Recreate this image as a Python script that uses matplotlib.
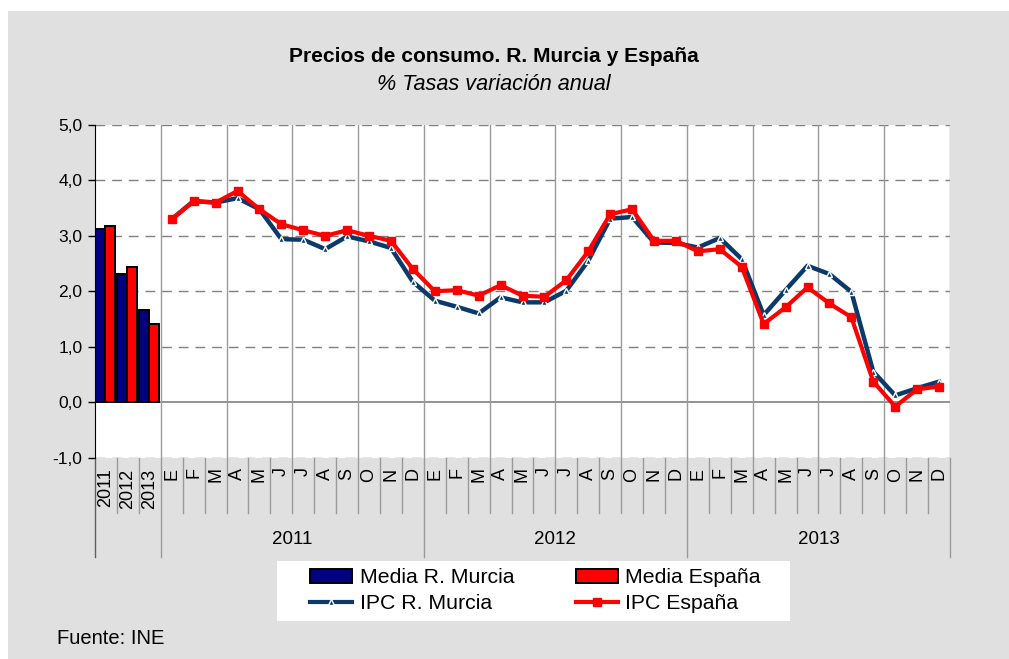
import matplotlib.pyplot as plt
from matplotlib.lines import Line2D
from matplotlib.patches import Patch, Rectangle
from matplotlib.transforms import blended_transform_factory

plt.rcParams['font.family'] = ['Liberation Sans', 'DejaVu Sans']

# Datos
anios = ['2011', '2012', '2013']
media_murcia = [3.12, 2.32, 1.67]
media_espana = [3.18, 2.44, 1.41]

meses = ['E', 'F', 'M', 'A', 'M', 'J', 'J', 'A', 'S', 'O', 'N', 'D'] * 3

ipc_murcia = [3.30, 3.63, 3.60, 3.68, 3.48, 2.94, 2.93, 2.76, 2.99, 2.90, 2.78, 2.17,
              1.83, 1.72, 1.60, 1.89, 1.80, 1.80, 2.01, 2.55, 3.31, 3.34, 2.88, 2.87,
              2.79, 2.96, 2.58, 1.57, 2.02, 2.46, 2.31, 1.99, 0.55, 0.12, 0.25, 0.37]
ipc_espana = [3.30, 3.62, 3.60, 3.81, 3.48, 3.21, 3.10, 3.00, 3.10, 3.00, 2.91, 2.40,
              2.00, 2.02, 1.92, 2.11, 1.92, 1.90, 2.20, 2.72, 3.39, 3.48, 2.91, 2.91,
              2.72, 2.76, 2.44, 1.41, 1.71, 2.07, 1.78, 1.53, 0.37, -0.08, 0.23, 0.28]

y_ticks = [-1, 0, 1, 2, 3, 4, 5]

AZUL_BAR = '#000080'
AZUL_LIN = '#0b3a6a'
ROJO = '#ff0000'
GRIS_FONDO = '#e0e0e0'
GRIS_LINEA = '#9a9a9a'

W, H = 1009, 659
fig = plt.figure(figsize=(W / 100, H / 100), dpi=100)
fig.patch.set_facecolor('white')
fig.add_artist(Rectangle((8 / W, 0), 1 - 8 / W, 1 - 11 / H, transform=fig.transFigure,
                         facecolor=GRIS_FONDO, edgecolor='none', zorder=-10))

ax_top, ax_bot = 125, 457.5
ax = fig.add_axes([95 / W, 1 - ax_bot / H, (950 - 95) / W, (ax_bot - ax_top) / H])
ax.set_facecolor('white')
n_bar = len(anios)
n_cat = n_bar + len(meses)
ax.set_xlim(0, n_cat)
ax.set_ylim(-1, 5)

# rejilla
for v in y_ticks:
    if v == 0:
        ax.axhline(v, color='#808080', lw=1.2, zorder=1)
    else:
        ax.axhline(v, color='#808080', lw=1, ls=(0, (7, 5)), zorder=1)
for xv in range(n_bar, n_cat + 1, 3):
    ax.axvline(xv, color=GRIS_LINEA, lw=1, zorder=1)

# barras de medias
bw = 0.46
xb = [i + 0.45 for i in range(n_bar)]
ax.bar([x - bw / 2 for x in xb], media_murcia, width=bw, color=AZUL_BAR,
       edgecolor='black', lw=1.4, zorder=3)
ax.bar([x + bw / 2 for x in xb], media_espana, width=bw, color=ROJO,
       edgecolor='black', lw=1.4, zorder=3)

# lineas mensuales
xm = [n_bar + i + 0.5 for i in range(len(meses))]
ax.plot(xm, ipc_murcia, color=AZUL_LIN, lw=3.2, marker='^', ms=4.5,
        mfc=AZUL_LIN, mec='white', mew=1, zorder=4)
ax.plot(xm, ipc_espana, color=ROJO, lw=3, marker='s', ms=5.5,
        mfc=ROJO, mec=ROJO, zorder=5)

# eje y
ax.set_yticks(y_ticks)
ax.set_yticklabels([f'{v:.1f}'.replace('.', ',') for v in y_ticks], fontsize=12.5)
ax.tick_params(axis='y', direction='out', length=5, width=1, color='black', pad=4)
ax.tick_params(axis='x', length=0, labelbottom=False)
for s in ['top', 'right', 'bottom']:
    ax.spines[s].set_visible(False)
ax.spines['left'].set_color('black')
ax.spines['left'].set_zorder(6)

# etiquetas de categorias bajo el eje
tr = blended_transform_factory(ax.transData, ax.transAxes)
hpx = ax_bot - ax_top
for i in range(n_cat + 1):
    largo = 557 - ax_bot if i in (0, 3, 15, 27, 39) else 513 - ax_bot
    ax.plot([i, i], [0, -largo / hpx], transform=tr, clip_on=False,
            color=GRIS_LINEA if i else '#606060', lw=1)
for i, a in enumerate(anios):
    ax.text(i + 0.5, -11 / hpx, a, rotation=90, ha='center', va='top',
            transform=tr, fontsize=13)
for i, m in enumerate(meses):
    ax.text(n_bar + i + 0.5, -10 / hpx, m, rotation=90, ha='center', va='top',
            transform=tr, fontsize=13)
for k, a in enumerate(anios):
    ax.text(n_bar + 12 * k + 6, -(540 - ax_bot) / hpx, a, ha='center', va='center',
            transform=tr, fontsize=13.5)

# titulos
fig.text(494 / W, 1 - 57 / H, 'Precios de consumo. R. Murcia y España',
         ha='center', va='center', fontsize=15.1, fontweight='bold')
fig.text(494 / W, 1 - 85 / H, '% Tasas variación anual',
         ha='center', va='center', fontsize=15.6, style='italic')
fig.text(57 / W, 1 - 639 / H, 'Fuente: INE', ha='left', va='center', fontsize=14.5)

# leyenda (caja blanca + entradas)
fig.add_artist(Rectangle((277 / W, 1 - 621 / H), (790 - 277) / W, 60 / H,
                         transform=fig.transFigure, facecolor='white',
                         edgecolor='none', zorder=1))
h1 = Patch(facecolor=AZUL_BAR, edgecolor='black', lw=1.4)
h2 = Patch(facecolor=ROJO, edgecolor='black', lw=1.4)
h3 = Line2D([], [], color=AZUL_LIN, lw=3, marker='^', ms=4.5, mfc=AZUL_LIN, mec='white')
h4 = Line2D([], [], color=ROJO, lw=3, marker='s', ms=5.5)
leg = fig.legend([h1, h3, h2, h4],
                 ['Media R. Murcia', 'IPC R. Murcia', 'Media España', 'IPC España'],
                 ncol=2, loc='center left', bbox_to_anchor=(310 / W, 1 - 590.5 / H),
                 frameon=False, fontsize=15.3, handlelength=1.98, handleheight=0.6,
                 handletextpad=0.35, columnspacing=2.9, labelspacing=0.3,
                 borderpad=0, borderaxespad=0)
leg.set_zorder(2)

fig.savefig('out.png', dpi=100)
